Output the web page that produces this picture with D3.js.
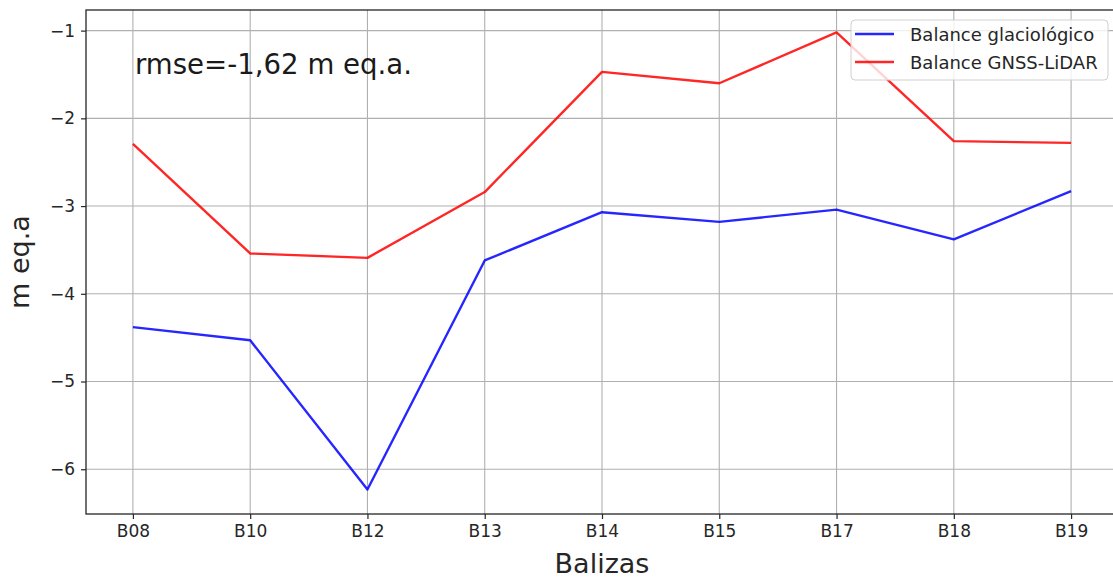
<!DOCTYPE html>
<html>
<head>
<meta charset="utf-8">
<script src="https://cdn.jsdelivr.net/npm/d3@7"></script>
<style>
  body { margin: 0; background: #fff; }
  svg { display: block; font-family: "DejaVu Sans", sans-serif; }
</style>
</head>
<body>
<div id="chart"></div>
<script>
const W = 1113, H = 579;
const MARGIN = { top: 10, right: -5, bottom: 65, left: 86 };

// balizas y balances (m eq.a)
const balizas = ["B08", "B10", "B12", "B13", "B14", "B15", "B17", "B18", "B19"];
const glaciologico = [-4.38, -4.53, -6.23, -3.62, -3.07, -3.18, -3.04, -3.38, -2.83];
const gnssLidar = [-2.29, -3.54, -3.59, -2.84, -1.47, -1.60, -1.02, -2.26, -2.28];
const yTicks = [-6, -5, -4, -3, -2, -1];
const rmseText = "rmse=-1,62 m eq.a.";

const series = [
  { name: "Balance glaciológico", values: glaciologico, color: "#0000ff" },
  { name: "Balance GNSS-LiDAR", values: gnssLidar, color: "#ff0000" }
];

const x0 = MARGIN.left, x1 = W - MARGIN.right;
const y0 = MARGIN.top, y1 = H - MARGIN.bottom;

const x = d3.scalePoint()
  .domain(balizas)
  .range([x0, x1])
  .padding(0.4);

const y = d3.scaleLinear()
  .domain([-6.51, -0.765])
  .range([y1, y0]);

const svg = d3.select("#chart")
  .append("svg")
  .attr("width", W)
  .attr("height", H);

// rejilla
svg.append("g")
  .selectAll("line")
  .data(balizas)
  .join("line")
  .attr("x1", d => x(d)).attr("x2", d => x(d))
  .attr("y1", y0).attr("y2", y1)
  .attr("stroke", "#b0b0b0")
  .attr("stroke-width", 1.1);

svg.append("g")
  .selectAll("line")
  .data(yTicks)
  .join("line")
  .attr("x1", x0).attr("x2", x1)
  .attr("y1", d => y(d)).attr("y2", d => y(d))
  .attr("stroke", "#b0b0b0")
  .attr("stroke-width", 1.1);

// lineas
const line = d3.line()
  .x((d, i) => x(balizas[i]))
  .y(d => y(d));

svg.append("g")
  .selectAll("path")
  .data(series)
  .join("path")
  .attr("d", d => line(d.values))
  .attr("fill", "none")
  .attr("stroke", d => d.color)
  .attr("stroke-opacity", 0.85)
  .attr("stroke-width", 2.4)
  .attr("stroke-linejoin", "round");

// ejes
const xAxis = svg.append("g")
  .attr("transform", "translate(0," + y1 + ")")
  .call(d3.axisBottom(x).tickSize(5).tickPadding(6));
xAxis.select(".domain").remove();
xAxis.selectAll("text")
  .attr("font-size", 17)
  .attr("fill", "#262626")
  .attr("font-family", "DejaVu Sans");
xAxis.selectAll("line").attr("stroke", "#262626").attr("stroke-width", 1.2);

const yAxis = svg.append("g")
  .attr("transform", "translate(" + x0 + ",0)")
  .call(d3.axisLeft(y).tickValues(yTicks).tickSize(5).tickPadding(6)
    .tickFormat(d => String(d).replace("-", "\u2212")));
yAxis.select(".domain").remove();
yAxis.selectAll("text")
  .attr("font-size", 17)
  .attr("fill", "#262626")
  .attr("font-family", "DejaVu Sans");
yAxis.selectAll("line").attr("stroke", "#262626").attr("stroke-width", 1.2);

// marco
svg.append("rect")
  .attr("x", x0).attr("y", y0)
  .attr("width", x1 - x0).attr("height", y1 - y0)
  .attr("fill", "none")
  .attr("stroke", "#262626")
  .attr("stroke-width", 1.3);

// etiquetas
svg.append("text")
  .attr("x", (x0 + x1) / 2)
  .attr("y", 573)
  .attr("text-anchor", "middle")
  .attr("font-size", 27)
  .attr("fill", "#262626")
  .text("Balizas");

svg.append("text")
  .attr("transform", "translate(29," + ((y0 + y1) / 2) + ") rotate(-90)")
  .attr("text-anchor", "middle")
  .attr("font-size", 27)
  .attr("fill", "#262626")
  .text("m eq.a");

svg.append("text")
  .attr("x", 135)
  .attr("y", 74)
  .attr("font-size", 27.6)
  .attr("fill", "#1a1a1a")
  .text(rmseText);

// leyenda
const legend = svg.append("g");
legend.append("rect")
  .attr("x", 851).attr("y", 20)
  .attr("width", 257).attr("height", 60)
  .attr("rx", 4)
  .attr("fill", "#fff")
  .attr("fill-opacity", 0.8)
  .attr("stroke", "#d0d0d0");

const items = legend.selectAll("g.item")
  .data(series)
  .join("g")
  .attr("class", "item")
  .attr("transform", (d, i) => "translate(0," + (34 + i * 28) + ")");

items.append("line")
  .attr("x1", 855).attr("x2", 894)
  .attr("stroke", d => d.color)
  .attr("stroke-opacity", 0.85)
  .attr("stroke-width", 2.4);

items.append("text")
  .attr("x", 910)
  .attr("y", 7)
  .attr("font-size", 18)
  .attr("fill", "#262626")
  .text(d => d.name);
</script>
</body>
</html>
